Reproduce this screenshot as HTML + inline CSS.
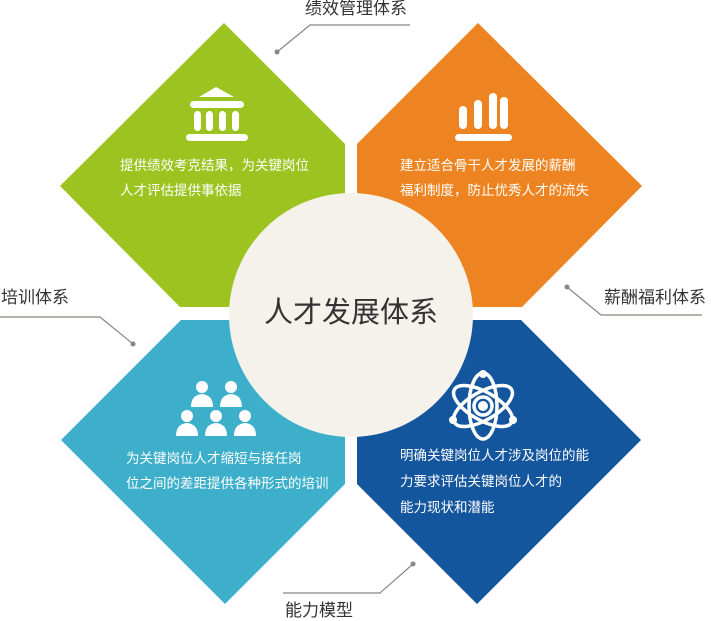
<!DOCTYPE html>
<html><head><meta charset="utf-8"><style>
body{margin:0;background:#fff;width:711px;height:621px;overflow:hidden;position:relative;font-family:"Liberation Sans","Noto Sans CJK SC",sans-serif}
.t{position:absolute;color:#fff;font-size:13.5px;line-height:25px;white-space:nowrap}
.l{position:absolute;color:#333;font-size:17px;white-space:nowrap;line-height:20px}
</style></head><body>
<svg width="711" height="621" style="position:absolute;left:0;top:0">
<polygon points="224,23 345,144 345,307 180,307 60,186" fill="#9cc31f"/>
<polygon points="478,23 357,144 357,307 522,307 642,186" fill="#ee8421"/>
<polygon points="345,320 181,320 61,440 225,604 345,484" fill="#3eafcb"/>
<polygon points="357,320 521,320 641,440 477,604 357,484" fill="#14569e"/>
<circle cx="351" cy="315" r="122" fill="#f4f2eb"/>
<g stroke="#8a8580" stroke-width="1.2" fill="none">
<polyline points="277,52 310,25 410,25"/>
<polyline points="567,287 601,315 702,315"/>
<polyline points="0,317 100,317 133,344"/>
<polyline points="413,564 380,593 283,593"/>
</g>
<g fill="#8a8580"><circle cx="277" cy="52" r="2.5"/><circle cx="567" cy="287" r="2.5"/><circle cx="133" cy="344" r="2.5"/><circle cx="413" cy="564" r="2.5"/></g>
<g fill="#fff">
<polygon points="216,87 199,97 234,97"/>
<rect x="190" y="101" width="54" height="7" rx="3.5"/>
<rect x="194" y="111" width="7" height="20" rx="3.5"/><rect x="206" y="111" width="7" height="20" rx="3.5"/><rect x="219" y="111" width="7" height="20" rx="3.5"/><rect x="232" y="111" width="7" height="20" rx="3.5"/>
<rect x="186" y="134" width="62" height="7" rx="3.5"/>
<rect x="459" y="106" width="8" height="23" rx="4"/><rect x="474" y="100" width="8" height="29" rx="4"/><rect x="489" y="93" width="8" height="36" rx="4"/><rect x="500" y="97" width="8" height="32" rx="4"/>
<rect x="455" y="134" width="57" height="7" rx="3.5"/>
</g>
<g fill="#fff">
<g id="p"><circle cx="202" cy="387" r="6"/><path d="M191,407 q0,-12 11,-13 q11,1 11,13 z"/></g>
<use href="#p" x="29"/><use href="#p" x="-15" y="29"/><use href="#p" x="14" y="29"/><use href="#p" x="43" y="29"/>
</g>
<g stroke="#fff" stroke-width="3.5" fill="none">
<ellipse cx="483" cy="406" rx="33" ry="14" transform="rotate(30 483 406)"/>
<ellipse cx="483" cy="406" rx="33" ry="14" transform="rotate(-30 483 406)"/>
<ellipse cx="483" cy="406" rx="14" ry="33"/>
<circle cx="483" cy="406" r="9"/>
</g>
<g fill="#fff"><circle cx="483" cy="406" r="5"/><circle cx="483" cy="374" r="4"/><circle cx="453" cy="420" r="4"/><circle cx="513" cy="420" r="4"/></g>
</svg>
<div style="position:absolute;left:229px;top:295px;width:244px;text-align:center;font-size:29px;color:#333;line-height:36px">人才发展体系</div>
<div class="t" style="left:120px;top:153px">提供绩效考克结果，为关键岗位<br>人才评估提供事依据</div>
<div class="t" style="left:400px;top:153px">建立适合骨干人才发展的薪酬<br>福利制度，防止优秀人才的流失</div>
<div class="t" style="left:126px;top:446px">为关键岗位人才缩短与接任岗<br>位之间的差距提供各种形式的培训</div>
<div class="t" style="left:400px;top:443px;line-height:26px">明确关键岗位人才涉及岗位的能<br>力要求评估关键岗位人才的<br>能力现状和潜能</div>
<div class="l" style="left:305px;top:-1px">绩效管理体系</div>
<div class="l" style="left:604px;top:288px">薪酬福利体系</div>
<div class="l" style="left:1px;top:288px">培训体系</div>
<div class="l" style="left:285px;top:601px">能力模型</div>
</body></html>
